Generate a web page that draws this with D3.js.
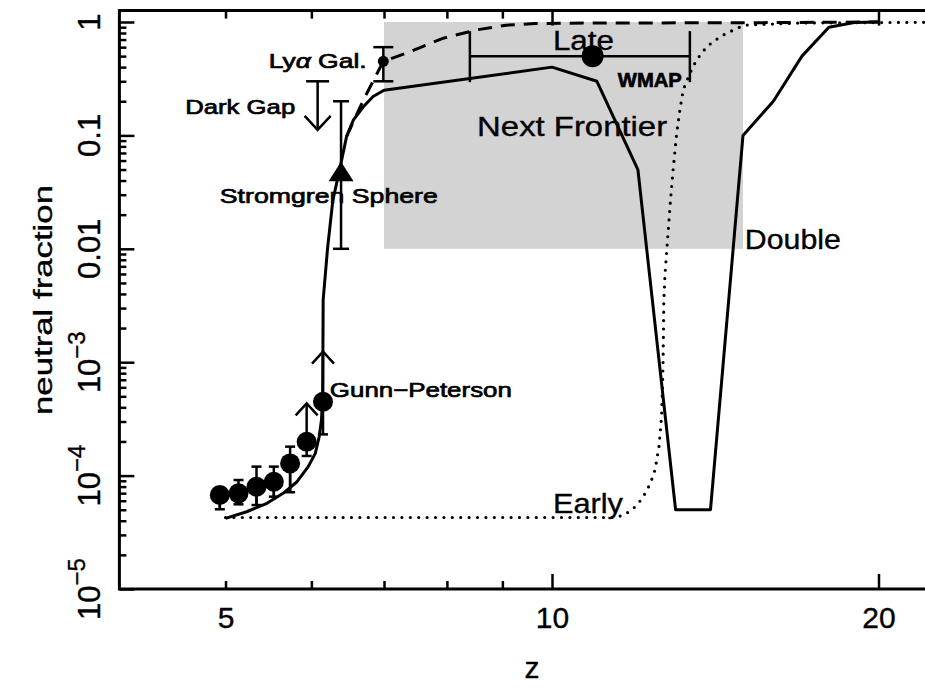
<!DOCTYPE html>
<html>
<head>
<meta charset="utf-8">
<script src="https://cdn.jsdelivr.net/npm/d3@7"></script>
<style>
  html, body { margin: 0; padding: 0; background: #fff; }
  svg { display: block; font-family: "Liberation Sans", Arial, sans-serif; }
  svg text { stroke: #000; stroke-width: 0.7px; }
  svg text.light { stroke-width: 0.35px; }
</style>
</head>
<body>
<svg id="chart" width="925" height="689"></svg>
<script>
// ---- Data -------------------------------------------------------------
// Gunn-Peterson optical depth measurements (quasar spectra)
const gpZ     = [4.94, 5.14, 5.34, 5.54, 5.735, 5.94, 6.15];
const gpValue = [6.74e-5, 6.98e-5, 7.98e-5, 8.83e-5, 1.28e-4, 1.99e-4, 4.48e-4];
const gpLow   = [5.05e-5, 5.58e-5, 5.5e-5, 6.52e-5, 7.13e-5, 1.49e-4, 2.31e-4];
const gpHigh  = [7.8e-5, 9.14e-5, 1.2e-4, 1.2e-4, 1.8e-4, null, null];
const gpLimit = [null, null, null, null, null, 4.34e-4, 1.24e-3];   // lower limits

// Dark gap upper limit
const darkGapZ = [6.08];
const darkGapValue = [0.3];
const darkGapTip = [0.112];

// Stromgren sphere constraint
const stromZ = [6.39];
const stromValue = [0.045];
const stromLow = [0.01];
const stromHigh = [0.2];

// Lyman-alpha galaxy constraint
const lyaZ = [6.99];
const lyaValue = [0.45];
const lyaLow = [0.3];
const lyaHigh = [0.6];

// WMAP reionization redshift
const wmapZ = [10.9];
const wmapValue = [0.5];
const wmapZLow = [8.4];
const wmapZHigh = [13.4];

// "Next Frontier" region
const frontierZ = [7, 15];
const frontierValue = [0.01, 1];

// Model histories: "Double" (solid)
const doubleZ = [5.0, 5.23, 5.46, 5.65, 5.82, 5.96, 6.05, 6.10, 6.13, 6.145, 6.15, 6.152,
                 6.21, 6.28, 6.37, 6.465, 6.56, 6.70, 6.84, 7.0, 10, 11, 12, 13, 14,
                 15, 16, 17, 18, 19, 20];
const doubleValue = [4.2e-5, 4.8e-5, 5.7e-5, 6.98e-5, 8.83e-5, 1.2e-4, 1.57e-4, 2.2e-4,
                     3.09e-4, 4.97e-4, 1.92e-3, 3.54e-3, 0.0102, 0.0269, 0.0495, 0.0975,
                     0.137, 0.179, 0.22, 0.25, 0.4, 0.3, 0.05, 5e-5, 5e-5,
                     0.1, 0.2, 0.5, 0.9, 0.99, 1.0];

// "Late" (dashed)
const lateZ = [6.465, 6.70, 6.99, 7.39, 7.93, 8.52, 9.07, 9.64, 11, 15, 20];
const lateValue = [0.0975, 0.205, 0.45, 0.544, 0.718, 0.852, 0.937, 0.97, 0.98, 0.985, 1.0];

// "Early" (dotted)
const earlyZ = [5.0, 11.41, 11.64, 11.87, 12.06, 12.23, 12.35, 12.45, 12.50, 12.55, 12.58,
                12.62, 12.64, 12.66, 12.67, 12.68, 12.71, 12.80, 12.86, 12.94, 13.03,
                13.12, 13.21, 13.40, 13.59, 13.89, 14.29, 14.80, 15.12, 16.9, 25];
const earlyValue = [4.27e-5, 4.27e-5, 4.47e-5, 5.06e-5, 5.98e-5, 7.34e-5, 9.07e-5, 1.14e-4,
                    1.45e-4, 1.8e-4, 2.33e-4, 3.36e-4, 5.69e-4, 1.05e-3, 1.92e-3, 3.54e-3,
                    5.87e-3, 0.0147, 0.0269, 0.053, 0.104, 0.168, 0.251, 0.353, 0.462,
                    0.606, 0.742, 0.88, 0.94, 0.98, 1.0];

// Axis ticks
const xMinorTicks = [5, 6, 7, 8, 9];
const xMajorTicks = [10, 20];
const xTickLabels = [5, 10, 20];
const yMajorTicks = [1e-5, 1e-4, 1e-3, 1e-2, 1e-1, 1];
const yTickLabels = [
  { v: 1,    base: "1",    exp: null },
  { v: 0.1,  base: "0.1",  exp: null },
  { v: 0.01, base: "0.01", exp: null },
  { v: 1e-3, base: "10",   exp: "\u22123" },
  { v: 1e-4, base: "10",   exp: "\u22124" },
  { v: 1e-5, base: "10",   exp: "\u22125" }
];

// ---- Scales -----------------------------------------------------------
const W = 925, H = 689;
const decade = 1084.6;
const x = d3.scaleLog().domain([4, 25]).range([120.4, 120.4 + decade * Math.log10(25 / 4)]);
const y = d3.scaleLog().domain([1e-5, 1]).range([589, 22]);
const yTop = y(1.26);

const svg = d3.select("#chart");
const ink = "#000";

// ---- Shaded region ----------------------------------------------------
svg.append("rect")
  .attr("x", x(frontierZ[0]))
  .attr("y", y(frontierValue[1]))
  .attr("width", x(frontierZ[1]) - x(frontierZ[0]))
  .attr("height", y(frontierValue[0]) - y(frontierValue[1]))
  .attr("fill", "#d3d3d3");

// ---- Axes -------------------------------------------------------------
function cleanAxis(g) {
  g.select(".domain").remove();
  g.selectAll(".tick line").attr("stroke", ink).attr("stroke-width", 2.5);
}
const yMinorTicks = [];
for (let k = -5; k < 0; k++) for (let m = 2; m <= 9; m++) yMinorTicks.push(m * Math.pow(10, k));

svg.append("g").attr("transform", `translate(0,${y(1e-5)})`)
  .call(d3.axisBottom(x).tickValues(xMinorTicks).tickSize(-8).tickFormat(""))
  .call(cleanAxis);
svg.append("g").attr("transform", `translate(0,${y(1e-5)})`)
  .call(d3.axisBottom(x).tickValues(xMajorTicks).tickSize(-15).tickFormat(""))
  .call(cleanAxis);
svg.append("g").attr("transform", `translate(0,${yTop})`)
  .call(d3.axisTop(x).tickValues(xMinorTicks).tickSize(-8).tickFormat(""))
  .call(cleanAxis);
svg.append("g").attr("transform", `translate(0,${yTop})`)
  .call(d3.axisTop(x).tickValues(xMajorTicks).tickSize(-15).tickFormat(""))
  .call(cleanAxis);
svg.append("g").attr("transform", `translate(${x(4) - 1},0)`)
  .call(d3.axisLeft(y).tickValues(yMinorTicks).tickSize(-7).tickFormat(""))
  .call(cleanAxis);
svg.append("g").attr("transform", `translate(${x(4) - 1},0)`)
  .call(d3.axisLeft(y).tickValues(yMajorTicks).tickSize(-15).tickFormat(""))
  .call(cleanAxis);

// x tick labels
const xl = svg.append("g").attr("transform", `translate(0,${y(1e-5)})`)
  .call(d3.axisBottom(x).tickValues(xTickLabels).tickSize(0).tickPadding(17.5).tickFormat(d3.format("d")));
xl.select(".domain").remove();
xl.selectAll("text").attr("font-size", 30).attr("font-family", "Liberation Sans, Arial, sans-serif")
  .attr("fill", ink).attr("class", "light");

// y tick labels (rotated)
yTickLabels.forEach(t => {
  const txt = svg.append("text")
    .attr("class", "light")
    .attr("transform", `translate(100,${y(t.v)}) rotate(-90)`)
    .attr("text-anchor", "middle")
    .attr("font-size", 31)
    .attr("fill", ink);
  txt.append("tspan").text(t.base);
  if (t.exp) txt.append("tspan").attr("dy", -15).attr("font-size", 24).text(t.exp);
});

// frame
svg.append("path")
  .attr("d", `M${W + 5},${yTop}H${x(4) - 1}V${y(1e-5)}H${W + 5}`)
  .attr("fill", "none").attr("stroke", ink).attr("stroke-width", 3);

// axis titles
svg.append("text")
  .attr("class", "light")
  .attr("x", 532).attr("y", 678)
  .attr("text-anchor", "middle").attr("font-size", 30).attr("fill", ink)
  .text("z");
svg.append("text")
  .attr("class", "light")
  .attr("transform", `translate(52,300) rotate(-90)`)
  .attr("text-anchor", "middle").attr("font-size", 26).attr("fill", ink)
  .attr("textLength", 230).attr("lengthAdjust", "spacingAndGlyphs")
  .text("neutral fraction");

// ---- Model curves -----------------------------------------------------
const line = d3.line().x(d => x(d[0])).y(d => y(d[1]));
svg.append("path")
  .datum(d3.zip(earlyZ, earlyValue))
  .attr("d", line).attr("fill", "none").attr("stroke", ink)
  .attr("stroke-width", 3.2).attr("stroke-linecap", "round")
  .attr("stroke-dasharray", "0 8.4");
svg.append("path")
  .datum(d3.zip(lateZ, lateValue))
  .attr("d", line).attr("fill", "none").attr("stroke", ink)
  .attr("stroke-width", 3).attr("stroke-dasharray", "14 9");
svg.append("path")
  .datum(d3.zip(doubleZ, doubleValue))
  .attr("d", line).attr("fill", "none").attr("stroke", ink)
  .attr("stroke-width", 3).attr("stroke-linejoin", "round");

// ---- Helpers for error bars and arrows --------------------------------
function seg(x1, y1, x2, y2, w = 2.5) {
  svg.append("line").attr("x1", x1).attr("y1", y1).attr("x2", x2).attr("y2", y2)
    .attr("stroke", ink).attr("stroke-width", w);
}
function vArrowHead(px, tipY, dir, half = 12, len = 13) {
  // dir = -1 points up, +1 points down
  svg.append("path")
    .attr("d", `M${px - half},${tipY - dir * len}L${px},${tipY}L${px + half},${tipY - dir * len}`)
    .attr("fill", "none").attr("stroke", ink).attr("stroke-width", 2.5);
}

// ---- Gunn-Peterson points ---------------------------------------------
gpZ.forEach((z, i) => {
  const px = x(z);
  if (gpHigh[i] !== null) {
    seg(px, y(gpLow[i]), px, y(gpHigh[i]));
    seg(px - 5, y(gpHigh[i]), px + 5, y(gpHigh[i]));
  }
  seg(px - 5, y(gpLow[i]), px + 5, y(gpLow[i]));
  if (gpLimit[i] !== null) {
    seg(px, y(gpLow[i]), px, y(gpLimit[i]));
    vArrowHead(px, y(gpLimit[i]), -1, 11, 12);
  } else {
    seg(px, y(gpLow[i]), px, y(gpValue[i]));
  }
  svg.append("circle").attr("cx", px).attr("cy", y(gpValue[i])).attr("r", 10).attr("fill", ink);
});

// ---- Dark gap upper limit ---------------------------------------------
darkGapZ.forEach((z, i) => {
  const px = x(z);
  seg(px - 11.5, y(darkGapValue[i]), px + 11.5, y(darkGapValue[i]));
  seg(px, y(darkGapValue[i]), px, y(darkGapTip[i]));
  vArrowHead(px, y(darkGapTip[i]), 1, 13, 14);
});

// ---- Stromgren sphere -------------------------------------------------
stromZ.forEach((z, i) => {
  const px = x(z);
  seg(px, y(stromLow[i]), px, y(stromHigh[i]));
  seg(px - 8, y(stromLow[i]), px + 8, y(stromLow[i]));
  seg(px - 8, y(stromHigh[i]), px + 8, y(stromHigh[i]));
  const cy = y(stromValue[i]);
  svg.append("path")
    .attr("d", `M${px},${cy - 13}L${px + 12.5},${cy + 6.5}L${px - 12.5},${cy + 6.5}Z`)
    .attr("fill", ink);
});

// ---- Lyman-alpha galaxies ---------------------------------------------
lyaZ.forEach((z, i) => {
  const px = x(z);
  seg(px, y(lyaLow[i]), px, y(lyaHigh[i]));
  seg(px - 10, y(lyaLow[i]), px + 10, y(lyaLow[i]));
  seg(px - 10, y(lyaHigh[i]), px + 10, y(lyaHigh[i]));
  svg.append("circle").attr("cx", px).attr("cy", y(lyaValue[i])).attr("r", 5.5).attr("fill", ink);
});

// ---- WMAP -------------------------------------------------------------
wmapZ.forEach((z, i) => {
  const cy = y(wmapValue[i]);
  seg(x(wmapZLow[i]), cy, x(wmapZHigh[i]), cy);
  seg(x(wmapZLow[i]), cy - 25, x(wmapZLow[i]), cy + 26);
  seg(x(wmapZHigh[i]), cy - 25, x(wmapZHigh[i]), cy + 26);
  svg.append("circle").attr("cx", x(z)).attr("cy", cy).attr("r", 11).attr("fill", ink);
});

// ---- Annotations ------------------------------------------------------
function label(textParts, z, v, size, width, weight = "normal", cls = null) {
  const t = svg.append("text")
    .attr("x", x(z)).attr("y", y(v))
    .attr("font-size", size).attr("font-weight", weight).attr("fill", ink)
    .attr("textLength", width).attr("lengthAdjust", "spacingAndGlyphs");
  if (cls) t.attr("class", cls);
  textParts.forEach(p => {
    const s = t.append("tspan").text(p.t);
    if (p.italic) s.attr("font-style", "italic");
  });
}
label([{ t: "Ly" }, { t: "\u03b1", italic: true }, { t: " Gal." }], 5.48, 0.393, 21, 98);
label([{ t: "Dark Gap" }], 4.59, 0.1545, 21, 110);
label([{ t: "Stromgren Sphere" }], 4.94, 0.0253, 21, 218);
label([{ t: "Gunn\u2212Peterson" }], 6.24, 4.93e-4, 21, 182);
label([{ t: "WMAP" }], 11.5, 0.267, 21, 64, "bold");
label([{ t: "Late" }], 10.02, 0.566, 27, 61, "normal", "light");
label([{ t: "Next Frontier" }], 8.53, 0.0988, 28, 190, "normal", "light");
label([{ t: "Double" }], 15.06, 0.00996, 28, 96, "normal", "light");
label([{ t: "Early" }], 10.02, 4.72e-5, 28, 70, "normal", "light");
</script>
</body>
</html>
